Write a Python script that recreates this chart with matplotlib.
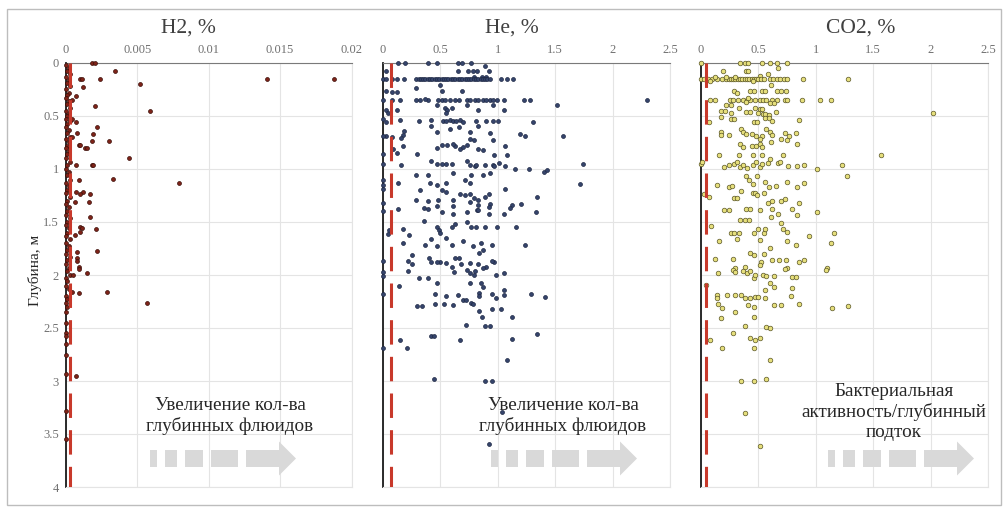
import matplotlib
matplotlib.use("Agg")
import matplotlib.pyplot as plt
from matplotlib.patches import Rectangle, Polygon

plt.rcParams['font.family'] = ['Liberation Serif', 'DejaVu Serif']

# --- data: (depth m, concentration %) ---
h2_points = [
    (0.00, 0.0018), (0.00, 0.0020), (0.08, 0.0034), (0.155, 0.0010), (0.155, 0.0011),
    (0.155, 0.0024), (0.155, 0.0141), (0.155, 0.0188), (0.23, 0.0012), (0.20, 0.0052),
    (0.31, 0.0007), (0.35, 0.0004), (0.41, 0.0020), (0.45, 0.0059), (0.53, 0.0004),
    (0.56, 0.0007), (0.60, 0.0022), (0.66, 0.0008), (0.67, 0.0019), (0.70, 0.0004),
    (0.74, 0.0030), (0.74, 0.0018), (0.77, 0.0009), (0.77, 0.0010), (0.80, 0.0013),
    (0.80, 0.0015), (0.90, 0.0044), (0.96, 0.0007), (0.96, 0.0018), (0.96, 0.0019),
    (1.09, 0.0033), (1.10, 0.0009), (1.13, 0.0079), (1.22, 0.0007), (1.22, 0.0012),
    (1.24, 0.0010), (1.24, 0.0017), (1.31, 0.0006), (1.31, 0.0016), (1.45, 0.0017),
    (1.55, 0.0010), (1.56, 0.0011), (1.57, 0.0021), (1.59, 0.0010), (1.62, 0.0006),
    (1.77, 0.0022), (1.78, 0.0008), (1.84, 0.0008), (1.87, 0.0008), (1.92, 0.0009),
    (1.94, 0.0009), (1.98, 0.0015), (2.00, 0.0005), (2.16, 0.0029), (2.17, 0.0009),
    (2.26, 0.0057), (2.95, 0.0007),
]
h2_near_zero = [
    (0.02, 0.0), (0.05, 0.0002), (0.08, 0.0001), (0.10, 0.0003), (0.13, 0.0), (0.16, 0.0002),
    (0.19, 0.0001), (0.22, 0.0003), (0.25, 0.0), (0.28, 0.0002), (0.30, 0.0001), (0.33, 0.0),
    (0.36, 0.0002), (0.39, 0.0001), (0.42, 0.0003), (0.45, 0.0), (0.48, 0.0002), (0.50, 0.0001),
    (0.53, 0.0), (0.55, 0.0003), (0.58, 0.0001), (0.60, 0.0), (0.63, 0.0002), (0.66, 0.0001),
    (0.70, 0.0003), (0.72, 0.0), (0.75, 0.0002), (0.78, 0.0001), (0.80, 0.0), (0.83, 0.0002),
    (0.86, 0.0001), (0.90, 0.0), (0.93, 0.0003), (0.96, 0.0001), (1.00, 0.0), (1.03, 0.0002),
    (1.06, 0.0001), (1.10, 0.0003), (1.13, 0.0), (1.16, 0.0002), (1.20, 0.0001), (1.23, 0.0),
    (1.26, 0.0003), (1.30, 0.0001), (1.33, 0.0), (1.36, 0.0002), (1.40, 0.0001), (1.43, 0.0),
    (1.46, 0.0003), (1.50, 0.0001), (1.53, 0.0), (1.56, 0.0002), (1.60, 0.0001), (1.63, 0.0),
    (1.66, 0.0003), (1.70, 0.0), (1.73, 0.0002), (1.76, 0.0001), (1.80, 0.0), (1.83, 0.0003),
    (1.86, 0.0001), (1.90, 0.0), (1.93, 0.0002), (1.96, 0.0001), (2.00, 0.0003), (2.03, 0.0),
    (2.06, 0.0001), (2.10, 0.0), (2.13, 0.0002), (2.16, 0.0004), (2.20, 0.0), (2.23, 0.0001),
    (2.26, 0.0), (2.30, 0.0001), (2.35, 0.0), (2.45, 0.0), (2.55, 0.0), (2.58, 0.0),
    (2.65, 0.0), (2.75, 0.0), (2.93, 0.0), (3.28, 0.0), (3.55, 0.0),
]

he_points = [
    (0.0, 0.13), (0.0, 0.19), (0.0, 0.39), (0.0, 0.47), (0.0, 0.65), (0.0, 0.69), (0.0, 0.77),
    (0.03, 0.89), (0.075, 0.03), (0.075, 0.65), (0.075, 0.74), (0.075, 0.78), (0.075, 0.82),
    (0.075, 0.92), (0.13, 0.79), (0.13, 0.86), (0.13, 0.90),
    (0.155, 0.0), (0.155, 0.03), (0.155, 0.08), (0.155, 0.12), (0.155, 0.18), (0.155, 0.29),
    (0.155, 0.31), (0.155, 0.33), (0.155, 0.35), (0.155, 0.37), (0.155, 0.39), (0.155, 0.41),
    (0.155, 0.43), (0.155, 0.45), (0.155, 0.47), (0.155, 0.49), (0.155, 0.51), (0.155, 0.53),
    (0.155, 0.55), (0.155, 0.57), (0.155, 0.59), (0.155, 0.61), (0.155, 0.63), (0.155, 0.65),
    (0.155, 0.67), (0.155, 0.69), (0.155, 0.71), (0.155, 0.73), (0.155, 0.75), (0.155, 0.77),
    (0.155, 0.79), (0.155, 0.81), (0.155, 0.83), (0.155, 0.85), (0.155, 0.87), (0.155, 0.89),
    (0.155, 0.91), (0.155, 0.93), (0.155, 1.03), (0.155, 1.08), (0.155, 1.13),
    (0.21, 0.50), (0.24, 0.29), (0.26, 0.51), (0.26, 0.69), (0.26, 0.03), (0.27, 0.08), (0.27, 0.12),
    (0.35, 0.0), (0.35, 0.08), (0.35, 0.15), (0.35, 0.29), (0.35, 0.32), (0.35, 0.39), (0.35, 0.48),
    (0.35, 0.51), (0.35, 0.54), (0.35, 0.58), (0.35, 0.63), (0.35, 0.66), (0.35, 0.73), (0.35, 0.76),
    (0.35, 0.80), (0.35, 0.83), (0.35, 0.87), (0.35, 0.90), (0.35, 0.93), (0.35, 0.96), (0.35, 0.99),
    (0.35, 1.05), (0.35, 1.23), (0.35, 1.28), (0.35, 2.30),
    (0.34, 0.37), (0.40, 1.52), (0.40, 0.47), (0.40, 0.73), (0.40, 0.96), (0.42, 0.54), (0.42, 0.60),
    (0.44, 0.56), (0.44, 0.83), (0.44, 1.05), (0.44, 0.03), (0.44, 0.12), (0.47, 0.04), (0.47, 0.55),
    (0.54, 0.15), (0.55, 0.31), (0.54, 0.42), (0.55, 0.52), (0.55, 0.55), (0.54, 0.58), (0.55, 0.61),
    (0.55, 0.64), (0.54, 0.67), (0.56, 0.70), (0.55, 0.81), (0.55, 0.90), (0.55, 0.96), (0.55, 1.00),
    (0.56, 1.31), (0.53, 0.0), (0.56, 0.03),
    (0.59, 0.42), (0.65, 0.47), (0.62, 0.58), (0.60, 0.66), (0.65, 0.76), (0.59, 0.83), (0.66, 0.93),
    (0.69, 1.57), (0.67, 1.19), (0.69, 1.24), (0.64, 0.18), (0.68, 0.17), (0.71, 0.16), (0.69, 0.03),
    (0.70, 0.08), (0.69, 0.0),
    (0.80, 0.47), (0.77, 0.51), (0.77, 0.56), (0.78, 0.63), (0.81, 0.67), (0.77, 0.73), (0.72, 0.76),
    (0.73, 0.79), (0.81, 0.83), (0.82, 0.87), (0.73, 0.96), (0.78, 1.06), (0.78, 0.17), (0.81, 0.09),
    (0.76, 0.61), (0.79, 0.70),
    (0.86, 0.30), (0.87, 0.97), (0.87, 1.08), (0.85, 0.12), (0.86, 0.0),
    (0.92, 0.42), (0.95, 0.47), (0.95, 0.51), (0.95, 0.55), (0.95, 0.60), (0.92, 0.73), (0.96, 0.76),
    (0.97, 0.80), (0.96, 0.81), (0.96, 0.89), (0.96, 0.96), (0.94, 1.01), (0.97, 0.97), (0.97, 1.06),
    (1.00, 1.15), (1.00, 1.27), (1.03, 1.40), (1.01, 1.43), (0.95, 1.74), (0.96, 0.16), (0.95, 0.0),
    (1.06, 0.29), (1.06, 0.39), (1.04, 0.61), (1.10, 0.71), (1.06, 0.77), (1.06, 0.87), (1.04, 0.93),
    (1.13, 0.55), (1.15, 0.47), (1.13, 0.41), (1.13, 0.76), (1.14, 1.72), (1.13, 0.13), (1.10, 0.0),
    (1.15, 0.0), (1.19, 0.0),
    (1.20, 0.32), (1.20, 0.51), (1.24, 0.67), (1.25, 0.71), (1.24, 0.76), (1.27, 0.79), (1.26, 0.89),
    (1.24, 0.92), (1.19, 1.06), (1.26, 1.34), (1.29, 0.29), (1.30, 0.39), (1.29, 0.48), (1.29, 0.61),
    (1.29, 0.83), (1.33, 0.93), (1.32, 0.0), (1.22, 0.55),
    (1.37, 0.36), (1.38, 0.39), (1.35, 0.47), (1.35, 0.61), (1.31, 0.76), (1.34, 0.83), (1.39, 0.82),
    (1.36, 0.92), (1.34, 1.12), (1.33, 1.20), (1.37, 1.11), (1.41, 0.51), (1.42, 0.61), (1.41, 0.73),
    (1.39, 0.83), (1.42, 0.92), (1.42, 1.05), (1.41, 1.33), (1.38, 0.13), (1.40, 0.0),
    (1.49, 0.36), (1.55, 0.47), (1.58, 0.49), (1.60, 0.50), (1.55, 0.60), (1.50, 0.73), (1.55, 0.77),
    (1.55, 0.81), (1.55, 0.89), (1.55, 0.99), (1.55, 1.16), (1.57, 0.17), (1.62, 0.23), (1.58, 0.05),
    (1.61, 0.04), (1.52, 0.63), (1.65, 0.55), (1.68, 0.70), (1.70, 0.85), (1.66, 0.42),
    (1.70, 0.17), (1.72, 0.37), (1.73, 0.47), (1.72, 0.60), (1.73, 0.78), (1.76, 0.87), (1.72, 0.95),
    (1.72, 1.24),
    (1.81, 0.25), (1.84, 0.40), (1.88, 0.50), (1.89, 0.55), (1.84, 0.66), (1.89, 0.76), (1.90, 0.83),
    (1.92, 0.90), (1.88, 0.97), (1.87, 0.22), (1.90, 0.25), (1.88, 0.42), (1.88, 0.47), (1.84, 0.63),
    (1.92, 0.60), (1.97, 0.62), (1.90, 0.68), (1.95, 0.73), (1.98, 0.76), (2.00, 0.79), (1.96, 0.80),
    (1.79, 0.84), (1.93, 0.87), (1.87, 0.95), (2.00, 0.98), (1.98, 1.05), (1.96, 0.22), (2.03, 0.31),
    (2.03, 0.39), (2.08, 0.47), (2.08, 0.76), (2.08, 0.85), (2.11, 0.87), (1.87, 0.0), (1.97, 0.0),
    (2.01, 0.0), (2.18, 0.0), (2.69, 0.0), (2.10, 0.14), (2.18, 0.45), (2.20, 0.55), (2.28, 0.61),
    (2.19, 0.65), (2.24, 0.70), (2.26, 0.77), (2.27, 0.78), (2.17, 0.84), (2.20, 0.84), (2.18, 0.95),
    (2.22, 0.98), (2.14, 1.05), (2.19, 1.05), (2.18, 1.29), (2.21, 1.41), (2.29, 0.30), (2.29, 0.34),
    (2.27, 0.45), (2.27, 0.53), (2.24, 0.72), (2.34, 0.84), (2.40, 0.86), (2.32, 0.95), (2.48, 0.89),
    (2.48, 0.93), (2.32, 1.03), (2.40, 1.12), (2.47, 0.72), (2.58, 0.42), (2.58, 0.44), (2.61, 0.67),
    (2.61, 0.15), (2.69, 0.21), (2.60, 1.12), (2.56, 1.34), (2.80, 1.08), (2.98, 0.44), (3.00, 0.89),
    (3.00, 0.95), (3.29, 1.04), (3.59, 0.92),
]

co2_points = [
    (0.0, 0.0), (0.0, 0.34), (0.0, 0.38), (0.0, 0.41), (0.0, 0.53), (0.0, 0.60), (0.0, 0.66),
    (0.0, 0.75), (0.05, 0.67), (0.08, 0.19), (0.08, 0.39), (0.08, 0.41), (0.12, 0.51), (0.10, 0.58),
    (0.155, 0.0), (0.155, 0.03), (0.155, 0.06), (0.155, 0.10), (0.155, 0.14), (0.155, 0.18),
    (0.155, 0.22), (0.155, 0.24), (0.155, 0.26), (0.155, 0.28), (0.155, 0.30), (0.155, 0.32),
    (0.155, 0.34), (0.155, 0.36), (0.155, 0.38), (0.155, 0.40), (0.155, 0.42), (0.155, 0.44),
    (0.155, 0.46), (0.155, 0.48), (0.155, 0.50), (0.155, 0.52), (0.155, 0.55), (0.155, 0.60),
    (0.155, 0.63), (0.155, 0.66), (0.155, 0.69), (0.155, 0.72), (0.155, 0.75), (0.155, 0.89),
    (0.155, 1.28), (0.13, 0.12), (0.13, 0.22), (0.13, 0.30), (0.17, 0.08), (0.17, 0.45),
    (0.21, 0.61), (0.26, 0.29), (0.26, 0.43), (0.26, 0.46), (0.26, 0.53), (0.26, 0.56), (0.26, 0.66),
    (0.26, 0.70), (0.26, 0.74), (0.28, 0.31),
    (0.35, 0.08), (0.35, 0.12), (0.35, 0.25), (0.35, 0.28), (0.35, 0.32), (0.35, 0.37), (0.35, 0.40),
    (0.35, 0.43), (0.35, 0.47), (0.35, 0.51), (0.35, 0.54), (0.35, 0.57), (0.35, 0.62), (0.35, 0.66),
    (0.35, 0.73), (0.35, 0.75), (0.35, 0.88), (0.35, 1.04), (0.35, 1.13),
    (0.33, 0.41), (0.37, 0.39), (0.40, 0.22), (0.40, 0.26), (0.42, 0.33), (0.42, 0.47), (0.43, 0.51),
    (0.43, 0.53), (0.38, 0.60), (0.38, 0.64), (0.45, 0.17), (0.45, 0.21), (0.47, 0.26), (0.46, 0.39),
    (0.46, 0.43), (0.47, 0.50), (0.48, 0.54), (0.48, 0.56), (0.49, 0.59), (0.46, 0.65), (0.47, 2.02),
    (0.51, 0.17), (0.56, 0.07), (0.53, 0.26), (0.53, 0.29), (0.56, 0.46), (0.56, 0.49), (0.52, 0.56),
    (0.52, 0.59), (0.55, 0.62), (0.54, 0.85),
    (0.65, 0.17), (0.68, 0.17), (0.68, 0.24), (0.62, 0.35), (0.65, 0.37), (0.67, 0.39), (0.67, 0.44),
    (0.69, 0.48), (0.69, 0.53), (0.72, 0.51), (0.62, 0.57), (0.65, 0.60), (0.68, 0.62), (0.72, 0.70),
    (0.66, 0.73), (0.69, 0.77), (0.66, 0.83), (0.73, 0.75), (0.76, 0.84), (0.76, 0.34), (0.79, 0.37),
    (0.78, 0.44), (0.78, 0.48), (0.76, 0.51), (0.79, 0.53), (0.75, 0.61),
    (0.87, 0.16), (0.87, 0.33), (0.87, 0.45), (0.87, 0.53), (0.87, 0.71), (0.87, 1.57), (0.95, 0.0),
    (0.93, 0.01),
    (0.98, 0.20), (0.96, 0.24), (0.95, 0.29), (0.93, 0.31), (0.98, 0.34), (0.96, 0.37), (0.99, 0.40),
    (0.96, 0.45), (0.93, 0.48), (0.98, 0.51), (0.95, 0.53), (0.94, 0.58), (0.91, 0.60), (0.94, 0.67),
    (0.93, 0.69), (0.97, 0.76), (0.97, 0.84), (0.96, 0.90), (1.00, 1.01), (0.96, 1.23), (1.07, 1.27),
    (1.15, 0.14), (1.17, 0.24), (1.16, 0.27), (1.07, 0.39), (1.10, 0.42), (1.14, 0.45), (1.07, 0.49),
    (1.12, 0.56), (1.17, 0.59), (1.16, 0.65), (1.12, 0.75), (1.17, 0.84), (1.13, 0.90), (1.24, 0.03),
    (1.26, 0.07),
    (1.27, 0.29), (1.27, 0.31), (1.21, 0.35), (1.23, 0.45), (1.23, 0.47), (1.25, 0.49), (1.23, 0.55),
    (1.32, 0.58), (1.30, 0.62), (1.30, 0.70), (1.28, 0.73), (1.32, 0.85), (1.41, 1.01), (1.39, 0.20),
    (1.39, 0.24), (1.38, 0.39), (1.38, 0.43), (1.39, 0.51), (1.38, 0.62), (1.42, 0.67), (1.38, 0.79),
    (1.43, 0.84),
    (1.54, 0.09), (1.48, 0.34), (1.48, 0.38), (1.48, 0.42), (1.45, 0.61), (1.51, 0.70), (1.60, 0.26),
    (1.60, 0.29), (1.60, 0.33), (1.60, 0.46), (1.57, 0.50), (1.60, 0.55), (1.57, 0.56), (1.57, 0.71),
    (1.59, 0.75), (1.63, 0.94), (1.60, 1.16),
    (1.68, 0.16), (1.66, 0.31), (1.67, 0.51), (1.75, 0.60), (1.68, 0.75), (1.72, 0.83), (1.70, 1.13),
    (1.85, 0.12), (1.85, 0.28), (1.93, 0.30), (1.92, 0.38), (1.79, 0.43), (1.81, 0.46), (1.80, 0.55),
    (1.88, 0.52), (1.91, 0.51), (1.86, 0.62), (1.86, 0.68), (1.86, 0.74), (1.93, 0.75), (1.88, 0.85),
    (1.86, 0.90), (1.93, 1.10),
    (1.98, 0.15), (1.95, 0.28), (1.97, 0.30), (1.96, 0.37), (1.98, 0.40), (1.96, 0.43), (2.03, 0.46),
    (2.00, 0.47), (2.00, 0.54), (2.01, 0.57), (2.01, 0.64), (1.94, 0.73), (2.02, 0.79), (2.02, 0.83),
    (1.95, 1.09), (2.09, 0.04), (2.19, 0.14), (2.22, 0.14), (2.27, 0.15), (2.19, 0.23), (2.19, 0.30),
    (2.19, 0.35), (2.22, 0.38), (2.22, 0.43), (2.21, 0.47), (2.21, 0.50), (2.22, 0.56), (2.08, 0.60),
    (2.11, 0.64), (2.14, 0.56), (2.20, 0.78), (2.12, 0.79), (2.27, 0.85), (2.31, 0.18), (2.35, 0.30),
    (2.28, 0.41), (2.30, 0.46), (2.28, 0.64), (2.28, 0.70), (2.31, 1.14), (2.29, 1.28), (2.41, 0.17),
    (2.40, 0.46), (2.48, 0.38), (2.49, 0.57), (2.50, 0.60), (2.61, 0.08), (2.55, 0.28), (2.59, 0.43),
    (2.61, 0.47), (2.59, 0.51), (2.69, 0.18), (2.69, 0.46), (2.80, 0.60), (3.00, 0.35), (3.00, 0.46),
    (2.98, 0.57), (3.30, 0.38), (3.61, 0.51),
]

# background-level thresholds (red dashed lines)
h2_background = 0.00028
he_background = 0.07
co2_background = 0.042

h2_ticks = [0, 0.005, 0.01, 0.015, 0.02]
h2_ticklabels = ['0', '0.005', '0.01', '0.015', '0.02']
pct_ticks = [0, 0.5, 1, 1.5, 2, 2.5]
pct_ticklabels = ['0', '0.5', '1', '1.5', '2', '2.5']
depth_ticks = [0, 0.5, 1, 1.5, 2, 2.5, 3, 3.5, 4]
depth_ticklabels = ['0', '0.5', '1', '1.5', '2', '2.5', '3', '3.5', '4']

# --- figure ---
W, H = 1008, 509
fig = plt.figure(figsize=(W / 100, H / 100), dpi=100)


def fx(px):
    return px / W


def fy(py):
    return 1 - py / H


fig.add_artist(Rectangle((fx(7), fy(505)), fx(1001) - fx(7), (505 - 9) / H, fill=False,
                         edgecolor='#BDBDBD', lw=1.0, transform=fig.transFigure))

grid_c = '#E4E4E4'


def make_axes(left_px, right_px):
    ax = fig.add_axes([fx(left_px), fy(487), fx(right_px) - fx(left_px), (487 - 63) / H])
    ax.set_ylim(4, 0)
    ax.xaxis.tick_top()
    ax.set_yticks(depth_ticks)
    ax.grid(True, color=grid_c, lw=0.8)
    ax.set_axisbelow(True)
    ax.spines['top'].set_color('#7A7A7A')
    ax.spines['left'].set_color('#1A1A1A')
    ax.spines['left'].set_linewidth(1.3)
    ax.spines['right'].set_color(grid_c)
    ax.spines['bottom'].set_color(grid_c)
    ax.tick_params(length=0, labelsize=9, colors='#707070', pad=5)
    return ax


def scatter(ax, pts, face, edge, size=8):
    d = [p[0] for p in pts]
    v = [p[1] for p in pts]
    ax.scatter(v, d, s=size, c=face, edgecolors=edge, linewidths=0.5, zorder=3, clip_on=False)


def red_line(ax, x):
    ax.plot([x, x], [0, 4], color='#C8392B', lw=2.2, dashes=(8, 4), zorder=4,
            solid_capstyle='butt')


ax1 = make_axes(66, 351.5)
ax1.set_xlim(0, 0.02)
ax1.set_xticks(h2_ticks)
ax1.set_xticklabels(h2_ticklabels)
ax1.set_yticklabels(depth_ticklabels)
scatter(ax1, h2_near_zero, '#7E2318', '#3A0E08')
scatter(ax1, h2_points, '#7E2318', '#3A0E08')
red_line(ax1, h2_background)

ax2 = make_axes(383, 670)
ax2.set_xlim(0, 2.5)
ax2.set_xticks(pct_ticks)
ax2.set_xticklabels(pct_ticklabels)
ax2.set_yticklabels([])
scatter(ax2, he_points, '#35446B', '#1E2844')
red_line(ax2, he_background)

ax3 = make_axes(701, 988)
ax3.set_xlim(0, 2.5)
ax3.set_xticks(pct_ticks)
ax3.set_xticklabels(pct_ticklabels)
ax3.set_yticklabels([])
scatter(ax3, co2_points, '#E6DF7C', '#5A5626', size=11)
red_line(ax3, co2_background)

# titles
for x, t in [(188, 'H2, %'), (512, 'He, %'), (861, 'CO2, %')]:
    fig.text(fx(x), fy(28), t, ha='center', va='center', fontsize=15.5, color='#404040')

fig.text(fx(35), fy(270), 'Глубина, м', rotation=90, ha='center', va='center',
         fontsize=11, color='#262626')

# annotations
fig.text(fx(230), fy(416), 'Увеличение кол-ва\nглубинных флюидов', ha='center', va='center',
         fontsize=13.8, linespacing=1.2, color='#262626')
fig.text(fx(563), fy(416), 'Увеличение кол-ва\nглубинных флюидов', ha='center', va='center',
         fontsize=13.8, linespacing=1.2, color='#262626')
fig.text(fx(894), fy(412), 'Бактериальная\nактивность/глубинный\nподток', ha='center',
         va='center', fontsize=13.8, linespacing=1.2, color='#262626')


def dashed_arrow(x0, yc):
    arrow_c = '#D9D9D9'
    for off, w in [(0, 7), (15, 12), (35, 18), (61, 27), (96, 33)]:
        fig.add_artist(Rectangle((fx(x0 + off), fy(yc + 8.5)), w / W, 17 / H,
                                 color=arrow_c, lw=0, transform=fig.transFigure))
    head = [(fx(x0 + 129), fy(yc - 17)), (fx(x0 + 146), fy(yc)), (fx(x0 + 129), fy(yc + 17))]
    fig.add_artist(Polygon(head, closed=True, color=arrow_c, lw=0, transform=fig.transFigure))


dashed_arrow(150, 458.5)
dashed_arrow(491, 458.5)
dashed_arrow(828, 458.5)

fig.savefig('out.png', dpi=100)
